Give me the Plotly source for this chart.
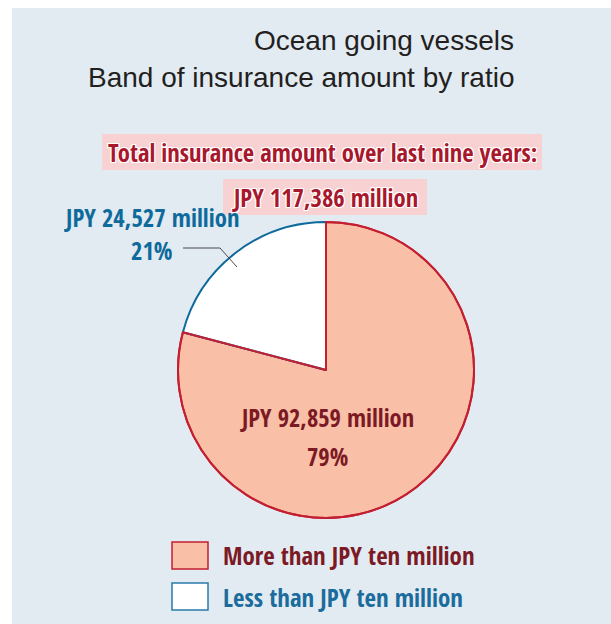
import plotly.graph_objects as go

W, H = 611, 624

categories = ["More than JPY ten million", "Less than JPY ten million"]
values = [92859, 24527]
total = 117386
title_lines = ["Ocean going vessels", "Band of insurance amount by ratio"]
banner_lines = ["Total insurance amount over last nine years:", f"JPY {total:,} million"]

SALMON = "#f9bfa7"
RED = "#c41f31"
BLUE = "#0f6a9c"
DARKRED = "#7b1a24"
BANNER_RED = "#a8182d"
PANEL = "#e2eaf2"

def px(x):
    return x / W

def py(y):
    return 1 - y / H

fig = go.Figure()

fig.add_trace(go.Pie(
    labels=categories, values=values, sort=False, direction="clockwise", rotation=0,
    marker=dict(colors=[SALMON, "#ffffff"], line=dict(color=[RED, BLUE], width=2)),
    textinfo="none", hoverinfo="label+value+percent", showlegend=False,
    domain=dict(x=[px(178), px(474)], y=[py(519), py(221)]),
))
# overlay to keep the red radial edges on top
fig.add_trace(go.Pie(
    labels=categories, values=values, sort=False, direction="clockwise", rotation=0,
    marker=dict(colors=["rgba(0,0,0,0)", "rgba(0,0,0,0)"],
                line=dict(color=[RED, "rgba(0,0,0,0)"], width=[2, 0])),
    textinfo="none", hoverinfo="skip", showlegend=False,
    domain=dict(x=[px(178), px(474)], y=[py(519), py(221)]),
))

pcts = [round(v / total * 100) for v in values]

shapes = [
    dict(type="rect", xref="paper", yref="paper", x0=px(12), x1=px(611), y0=py(624), y1=py(8),
         fillcolor=PANEL, line=dict(width=0), layer="below"),
    dict(type="rect", xref="paper", yref="paper", x0=px(102), x1=px(542), y0=py(170), y1=py(134),
         fillcolor="#f8d2d2", line=dict(width=0), layer="below"),
    dict(type="rect", xref="paper", yref="paper", x0=px(223), x1=px(427), y0=py(215), y1=py(179),
         fillcolor="#f8d2d2", line=dict(width=0), layer="below"),
    dict(type="path", xref="paper", yref="paper",
         path=f"M{px(183)},{py(248)} L{px(220)},{py(248)} L{px(237)},{py(267)}",
         line=dict(color="#4a4a4a", width=1)),
    dict(type="rect", xref="paper", yref="paper", x0=px(172), x1=px(208), y0=py(569), y1=py(542),
         fillcolor=SALMON, line=dict(color=RED, width=1.5)),
    dict(type="rect", xref="paper", yref="paper", x0=px(172), x1=px(208), y0=py(610), y1=py(583),
         fillcolor="#ffffff", line=dict(color="#2a7bab", width=1.5)),
]

NARROW = "Open Sans Condensed, Roboto Condensed, sans-serif"
halo = "1px 1px 0 #fff, -1px -1px 0 #fff, 1px -1px 0 #fff, -1px 1px 0 #fff, 0 1px 0 #fff, 0 -1px 0 #fff, 1px 0 0 #fff, -1px 0 0 #fff"

def ann(text, x, y, size, color, xanchor="center", family=NARROW, bold=True, shadow=None, height=None):
    f = dict(size=size, color=color, family=family)
    if bold:
        f["weight"] = "bold"
    if shadow:
        f["shadow"] = shadow
    d = dict(text=text, x=px(x), y=py(y), xref="paper", yref="paper", showarrow=False,
             xanchor=xanchor, yanchor="middle", font=f)
    if height:
        d["height"] = height
    return d

annotations = [
    ann(title_lines[0], 516, 40, 28, "#231f20", xanchor="right", family="Liberation Sans, Arial", bold=False),
    ann(title_lines[1], 516, 77, 28, "#231f20", xanchor="right", family="Liberation Sans, Arial", bold=False),
    ann(banner_lines[0], 322, 152, 24.6, BANNER_RED, shadow=halo),
    ann(banner_lines[1], 325, 197, 24.6, BANNER_RED, shadow=halo),
    ann(f"JPY {values[0]:,} million", 327, 418, 24.5, DARKRED),
    ann(f"{pcts[0]}%", 327, 457, 24.5, DARKRED),
    ann(f"JPY {values[1]:,} million", 241, 217, 24.7, BLUE, xanchor="right", height=30),
    ann(f"{pcts[1]}%", 175, 250, 24.7, BLUE, xanchor="right", height=30),
    ann(categories[0], 221, 555, 24.9, DARKRED, xanchor="left"),
    ann(categories[1], 221, 597, 24.9, "#1a6c9c", xanchor="left"),
]

fig.update_layout(
    width=W, height=H, margin=dict(l=0, r=0, t=0, b=0),
    paper_bgcolor="#ffffff", plot_bgcolor="#ffffff",
    shapes=shapes, annotations=annotations, showlegend=False,
)

fig.write_html("out.html")
